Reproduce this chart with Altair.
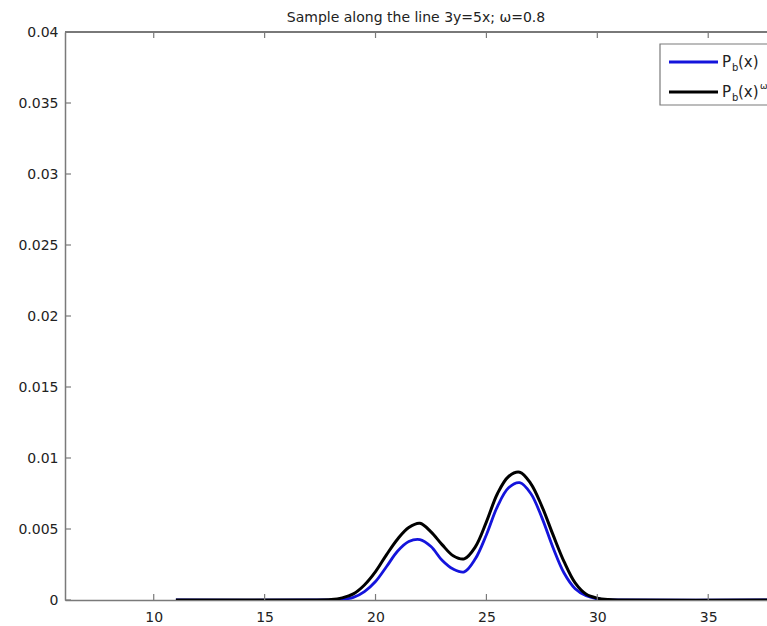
import altair as alt
import pandas as pd

# ---- data ----
xs = [11, 17, 18, 18.5, 19, 19.5, 20, 20.5, 21, 21.5, 22, 22.5, 23, 23.5, 24,
      24.5, 25, 25.5, 26, 26.5, 27, 27.5, 28, 28.5, 29, 29.5, 30, 30.5, 31, 38]
pb = [0, 0, 0.00001, 0.00005, 0.00018, 0.00059, 0.0013, 0.00236, 0.00345, 0.00412,
      0.00426, 0.00377, 0.0028, 0.00218, 0.00198, 0.0029, 0.0046, 0.0066, 0.0079,
      0.00826, 0.0075, 0.0058, 0.0037, 0.0019, 0.0008, 0.0003, 0.00008, 0.00001, 0, 0]
pbw = [0, 0, 0.00003, 0.00015, 0.00043, 0.00106, 0.0020, 0.0032, 0.0043, 0.0051,
       0.0054, 0.0048, 0.0039, 0.00312, 0.0029, 0.00374, 0.0055, 0.0075, 0.0087,
       0.0090, 0.0082, 0.0066, 0.0046, 0.0027, 0.0012, 0.0004, 0.00013, 0.00003, 0, 0]
x_ticks = [10, 15, 20, 25, 30, 35]
y_ticks = [0, 0.005, 0.01, 0.015, 0.02, 0.025, 0.03, 0.035, 0.04]
title_text = "Sample along the line 3y=5x; \u03c9=0.8"

W, H = 702, 568
FONT = "DejaVu Sans"
AX = "#7a7a7a"
TXT = "#222222"
BLUE = "#1414dc"

df_b = pd.DataFrame({"x": xs, "y": pb})
df_w = pd.DataFrame({"x": xs, "y": pbw})
xt = pd.DataFrame({"v": x_ticks})
yt = pd.DataFrame({"v": y_ticks})

xscale = alt.Scale(domain=[6, 37.65], nice=False, zero=False)
yscale = alt.Scale(domain=[0, 0.04], nice=False)

xaxis = alt.Axis(values=x_ticks, tickSize=0, grid=False, domainColor=AX, domainWidth=1.5,
                 labelFont=FONT, labelFontSize=14, labelColor=TXT, labelPadding=10,
                 title=None, labelFlush=False)
yaxis = alt.Axis(values=y_ticks, tickSize=0, grid=False, domainColor=AX, domainWidth=1.5,
                 labelFont=FONT, labelFontSize=14, labelColor=TXT, labelPadding=7,
                 title=None, format="~g")

line_b = alt.Chart(df_b).mark_line(color=BLUE, strokeWidth=2.8, interpolate="catmull-rom", clip=True).encode(
    x=alt.X("x:Q", scale=xscale, axis=xaxis),
    y=alt.Y("y:Q", scale=yscale, axis=yaxis),
)
line_w = alt.Chart(df_w).mark_line(color="black", strokeWidth=3, interpolate="catmull-rom", clip=True).encode(
    x=alt.X("x:Q", scale=xscale),
    y=alt.Y("y:Q", scale=yscale),
)

top_border = alt.Chart(xt).mark_rule(color=AX, strokeWidth=1.5).encode(
    x=alt.value(0), x2=alt.value(W + 5), y=alt.value(0))
bot_ticks = alt.Chart(xt).mark_rule(color=AX, strokeWidth=1.2).encode(
    x=alt.X("v:Q", scale=xscale), y=alt.value(H), y2=alt.value(H - 6))
top_ticks = alt.Chart(xt).mark_rule(color=AX, strokeWidth=1.2).encode(
    x=alt.X("v:Q", scale=xscale), y=alt.value(0), y2=alt.value(6))
left_ticks = alt.Chart(yt).mark_rule(color=AX, strokeWidth=1.2).encode(
    y=alt.Y("v:Q", scale=yscale), x=alt.value(0), x2=alt.value(6))

# ---- legend (drawn by hand, cut off at the right like the reference) ----
leg = pd.DataFrame({"k": [0]})
box = alt.Chart(leg).mark_rect(fill="white", stroke=AX, strokeWidth=1.2).encode(
    x=alt.value(595), x2=alt.value(720), y=alt.value(12), y2=alt.value(73))
lb = alt.Chart(leg).mark_rule(color=BLUE, strokeWidth=2.8).encode(
    x=alt.value(604), x2=alt.value(653), y=alt.value(30))
lw = alt.Chart(leg).mark_rule(color="black", strokeWidth=3).encode(
    x=alt.value(604), x2=alt.value(653), y=alt.value(60))

def txt(s, x, y, size):
    return alt.Chart(leg).mark_text(text=s, align="left", baseline="alphabetic", font=FONT,
                                    fontSize=size, color=TXT).encode(x=alt.value(x), y=alt.value(y))

legend_text = [
    txt("P", 657, 35, 15), txt("b", 667, 39, 10), txt("(x)", 673, 35, 15),
    txt("P", 657, 65, 15), txt("b", 667, 69, 10), txt("(x)", 673, 65, 15), txt("\u03c9", 695, 57, 9),
]

chart = alt.layer(
    line_b, line_w, top_border, bot_ticks, top_ticks, left_ticks, box, lb, lw, *legend_text
).properties(
    width=W, height=H,
    title=alt.TitleParams(title_text, font=FONT, fontSize=14, fontWeight="normal",
                          color=TXT, anchor="middle", offset=0),
    autosize=alt.AutoSizeParams(type="none"),
    padding={"left": 65, "top": 32, "right": 0, "bottom": 26},
).configure_view(stroke=None).configure(background="white")

chart.save("out.html", embed_options={"renderer": "svg", "actions": False})
